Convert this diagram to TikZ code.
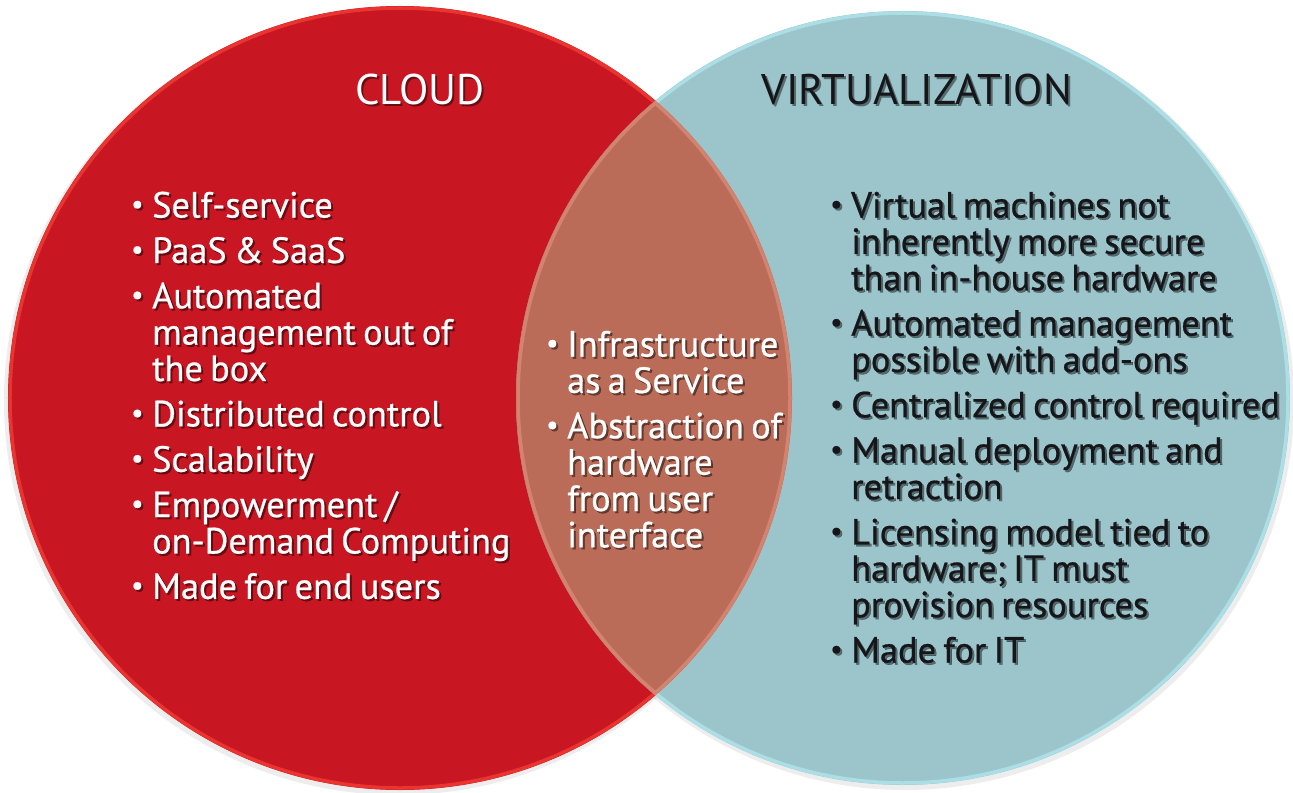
\documentclass[tikz,border=0pt]{standalone}
\usepackage{fontspec}
\usepackage{graphicx}
\setmainfont{PT Sans}
\newfontfamily\semib{PT Sans}[FakeBold=0.6]
\definecolor{cloudred}{RGB}{200,22,34}
\definecolor{redrim}{RGB}{234,52,48}
\definecolor{virtblue}{RGB}{155,197,203}
\definecolor{bluerim}{RGB}{172,222,230}
\definecolor{lensfill}{RGB}{186,108,88}
\definecolor{lensrim}{RGB}{210,132,112}
\definecolor{darktext}{RGB}{22,22,26}
\newcommand{\bl}[1]{\par\hangindent=21bp\hangafter=1\noindent\makebox[21bp][l]{\raisebox{0.12em}{\scalebox{0.75}{\textbullet}}}#1\par}
\newcommand{\shtext}[5]{%
  \node[#4, text=black, opacity=0.45, xshift=2bp, yshift=-2bp] (#1s) at (#2,#3) {#5};
  \node[#4] (#1) at (#2,#3) {#5};}
\tikzset{
  bodytext/.style={anchor=north west, inner sep=0pt, text width=480bp,
    font=\semib\fontsize{36.5}{36.5}\selectfont},
  titletext/.style={anchor=base, inner sep=0pt, font=\fontsize{43}{46}\selectfont},
  wtext/.style={text=white},
  dtext/.style={text=darktext}
}
\begin{document}
\begin{tikzpicture}[x=1bp,y=-1bp]
\useasboundingbox (0,0) rectangle (1293,793);
% soft shadows
\fill[black, opacity=0.07] (398,401) circle[radius=394bp];
\fill[black, opacity=0.07] (905,401) circle[radius=389bp];
\fill[white] (400,398) circle[radius=392bp];
\fill[white] (903,398) circle[radius=387bp];
% circles
\fill[cloudred] (400,398) circle[radius=392bp];
\fill[virtblue] (903,398) circle[radius=387bp];
\begin{scope}
  \clip (400,398) circle[radius=392bp];
  \fill[lensfill] (903,398) circle[radius=387bp];
\end{scope}
% rims
\begin{scope}[even odd rule]
  \clip (-10,-10) rectangle (1300,800) (903,398) circle[radius=385bp];
  \draw[redrim, line width=3.5bp] (400,398) circle[radius=390bp];
\end{scope}
\begin{scope}[even odd rule]
  \clip (-10,-10) rectangle (1300,800) (400,398) circle[radius=390bp];
  \draw[bluerim, line width=3.5bp] (903,398) circle[radius=385bp];
\end{scope}
\begin{scope}
  \clip (903,398) circle[radius=387bp];
  \draw[lensrim, line width=3.5bp] (400,398) circle[radius=390bp];
\end{scope}
\begin{scope}
  \clip (400,398) circle[radius=392bp];
  \draw[lensrim, line width=3.5bp] (903,398) circle[radius=385bp];
\end{scope}
% titles
\shtext{cloud}{420}{105}{titletext,wtext}{CLOUD}
\shtext{virt}{917}{105}{titletext,dtext}{VIRTUALIZATION}
% lists
\shtext{cloudlist}{131}{172}{bodytext,wtext}{\parskip=9bp\spaceskip=0.2em plus 0.05em
\bl{Self-service}
\bl{PaaS \& SaaS}
\bl{Automated\newline management out of\newline the box}
\bl{Distributed control}
\bl{Scalability}
\bl{Empowerment /\newline on-Demand Computing}
\bl{Made for end users}}
\shtext{lenslist}{546}{311}{bodytext,wtext}{\parskip=9bp\spaceskip=0.2em plus 0.05em
\bl{Infrastructure\newline as a Service}
\bl{Abstraction of\newline hardware\newline from user\newline interface}}
\shtext{virtlist}{830}{172}{bodytext,dtext}{\parskip=9bp\spaceskip=0.2em plus 0.05em
\bl{Virtual machines not\newline inherently more secure\newline than in-house hardware}
\bl{Automated management\newline possible with add-ons}
\bl{Centralized control required}
\bl{Manual deployment and\newline retraction}
\bl{Licensing model tied to\newline hardware; IT must\newline provision resources}
\bl{Made for IT}}
\end{tikzpicture}
\end{document}
